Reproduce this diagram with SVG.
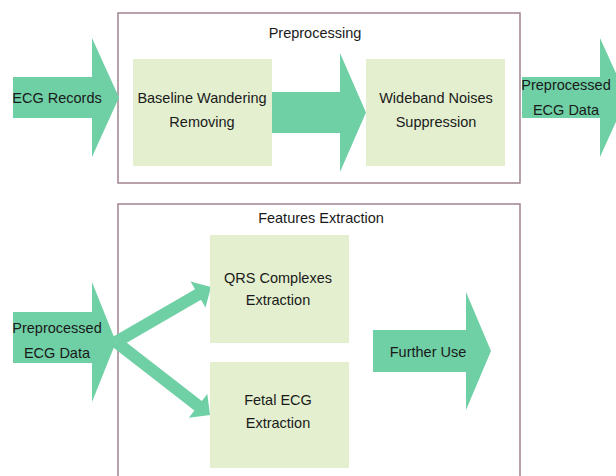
<svg xmlns="http://www.w3.org/2000/svg" width="616" height="476" viewBox="0 0 616 476">
<style>
.frame{fill:#ffffff;stroke:#a08391;stroke-width:1.5}
.box{fill:#e3efcf}
.arr{fill:#6fcfa5}
text{font-family:"Liberation Sans",Arial,sans-serif;font-size:14.5px;fill:#1a1a1a;text-anchor:middle}
</style>
<rect width="616" height="476" fill="#ffffff"/>
<g id="preprocessing-group">
<rect class="frame" x="118" y="13" width="402" height="170"/>
<text x="315" y="38">Preprocessing</text>
</g>
<g id="features-group">
<rect class="frame" x="118" y="204" width="402" height="290"/>
<text x="321" y="223">Features Extraction</text>
</g>
<g id="connectors">
<polygon class="arr" points="272,92 340,92 340,53 366,112.5 340,172 340,133 272,133"/>
<polygon class="arr" points="113,336.8 195,289.3 190.5,281.5 211,287 205.5,307.5 201,299.7 119,347.2"/>
<polygon class="arr" points="119.7,337.3 201.8,401.1 207.3,393.9 210,415 188.9,417.7 194.4,410.5 112.3,346.7"/>
</g>
<g id="ecg-records">
<polygon class="arr" points="13,77 92,77 92,38 119,97.5 92,157 92,118 13,118"/>
<text x="57" y="102.5">ECG Records</text>
</g>
<g id="baseline">
<rect class="box" x="133" y="59" width="139" height="107"/>
<text x="202" y="103">Baseline Wandering</text>
<text x="202" y="127">Removing</text>
</g>
<g id="wideband">
<rect class="box" x="366" y="59" width="139" height="107"/>
<text x="436" y="103">Wideband Noises</text>
<text x="436" y="127">Suppression</text>
</g>
<g id="preprocessed-out">
<polygon class="arr" points="522,77 600,77 600,38 627,97.5 600,157 600,118 522,118"/>
<text x="566" y="90">Preprocessed</text>
<text x="566" y="115">ECG Data</text>
</g>
<g id="preprocessed-in">
<polygon class="arr" points="13,312 92,312 92,282 116,342 92,402 92,363 13,363"/>
<text x="57" y="333">Preprocessed</text>
<text x="57" y="358">ECG Data</text>
</g>
<g id="qrs">
<rect class="box" x="210" y="235" width="139" height="108"/>
<text x="278" y="283">QRS Complexes</text>
<text x="278" y="305">Extraction</text>
</g>
<g id="fetal">
<rect class="box" x="210" y="362" width="139" height="106"/>
<text x="278" y="405">Fetal ECG</text>
<text x="278" y="428">Extraction</text>
</g>
<g id="further-use">
<polygon class="arr" points="373,330 466,330 466,292 491,351 466,410 466,372 373,372"/>
<text x="428" y="357">Further Use</text>
</g>
</svg>
